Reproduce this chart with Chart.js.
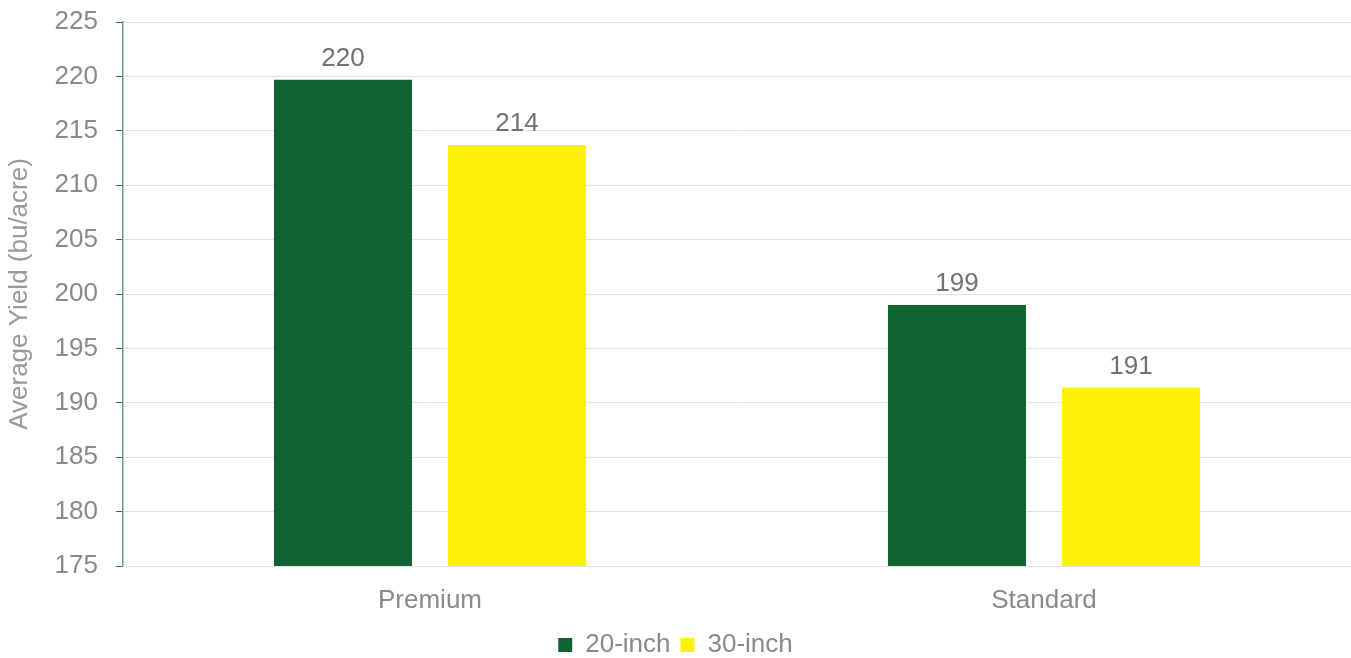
<!DOCTYPE html>
<html>
<head>
<meta charset="utf-8">
<title>Average Yield by Row Width</title>
<script src="https://cdn.jsdelivr.net/npm/chart.js@4/dist/chart.umd.min.js"></script>
<style>
  html, body { margin: 0; padding: 0; background: #ffffff; }
  #wrap { width: 1351px; height: 658px; }
</style>
</head>
<body>
<div id="wrap"><canvas id="yieldChart" width="1351" height="658"></canvas></div>
<script>
// Average yield (bu/acre) per hybrid tier and row width
const categories = ['Premium', 'Standard'];
const seriesNames = ['20-inch', '30-inch'];
const yield20 = [219.7, 199.0];
const yield30 = [213.7, 191.4];
const yTicks = { min: 175, max: 225, step: 5 };

const FONT = '"Liberation Sans", Arial, Helvetica, sans-serif';
const colors = {
    green: '#0f6331',
    yellow: '#fdf10b',
    tick: '#8a8a8a',
    label: '#727272',
    title: '#9a9a9a',
    grid: '#e2e2e2',
    axis: '#5ea67b',
    tickMark: '#1f7a45'
};

// value labels above each bar (rounded to whole bushels)
const barValueLabels = {
    id: 'barValueLabels',
    afterDatasetsDraw(chart) {
        const ctx = chart.ctx;
        ctx.save();
        ctx.font = '26px ' + FONT;
        ctx.fillStyle = colors.label;
        ctx.textAlign = 'center';
        ctx.textBaseline = 'alphabetic';
        chart.data.datasets.forEach((ds, i) => {
            const meta = chart.getDatasetMeta(i);
            meta.data.forEach((bar, j) => {
                ctx.fillText(String(Math.round(ds.data[j])), bar.x, bar.y - 14);
            });
        });
        ctx.restore();
    }
};

const ctx = document.getElementById('yieldChart').getContext('2d');

new Chart(ctx, {
    type: 'bar',
    data: {
        labels: categories,
        datasets: [
            {
                label: seriesNames[0],
                data: yield20,
                backgroundColor: colors.green,
                categoryPercentage: 0.567,
                barPercentage: 0.793
            },
            {
                label: seriesNames[1],
                data: yield30,
                backgroundColor: colors.yellow,
                categoryPercentage: 0.567,
                barPercentage: 0.793
            }
        ]
    },
    options: {
        responsive: false,
        animation: false,
        layout: {
            // negative bottom pushes the legend row down to the canvas edge
            padding: { top: 22, right: 0, bottom: -10, left: 0 }
        },
        plugins: {
            legend: {
                position: 'bottom',
                labels: {
                    boxWidth: 14,
                    boxHeight: 14,
                    padding: 10,
                    color: colors.tick,
                    font: { size: 26, family: FONT }
                }
            },
            tooltip: { enabled: false }
        },
        scales: {
            x: {
                grid: { display: false, drawTicks: false },
                border: { display: false },
                ticks: {
                    color: colors.tick,
                    padding: 19,
                    font: { size: 26, family: FONT }
                },
                afterFit: (scale) => { scale.height = 56; }
            },
            y: {
                min: yTicks.min,
                max: yTicks.max,
                ticks: {
                    stepSize: yTicks.step,
                    color: colors.tick,
                    padding: 18,
                    font: { size: 26, family: FONT }
                },
                grid: {
                    color: colors.grid,
                    tickColor: colors.tickMark,
                    tickLength: 7,
                    lineWidth: 1
                },
                border: { color: colors.axis, width: 1.5 },
                title: {
                    display: true,
                    text: 'Average Yield (bu/acre)',
                    color: colors.title,
                    padding: { top: 4, bottom: 4 },
                    font: { size: 26, family: FONT }
                },
                afterFit: (scale) => {
                    scale.width = 123;
                    scale.paddingTop = 0;
                    scale.paddingBottom = 0;
                }
            }
        }
    },
    plugins: [barValueLabels]
});
</script>
</body>
</html>
